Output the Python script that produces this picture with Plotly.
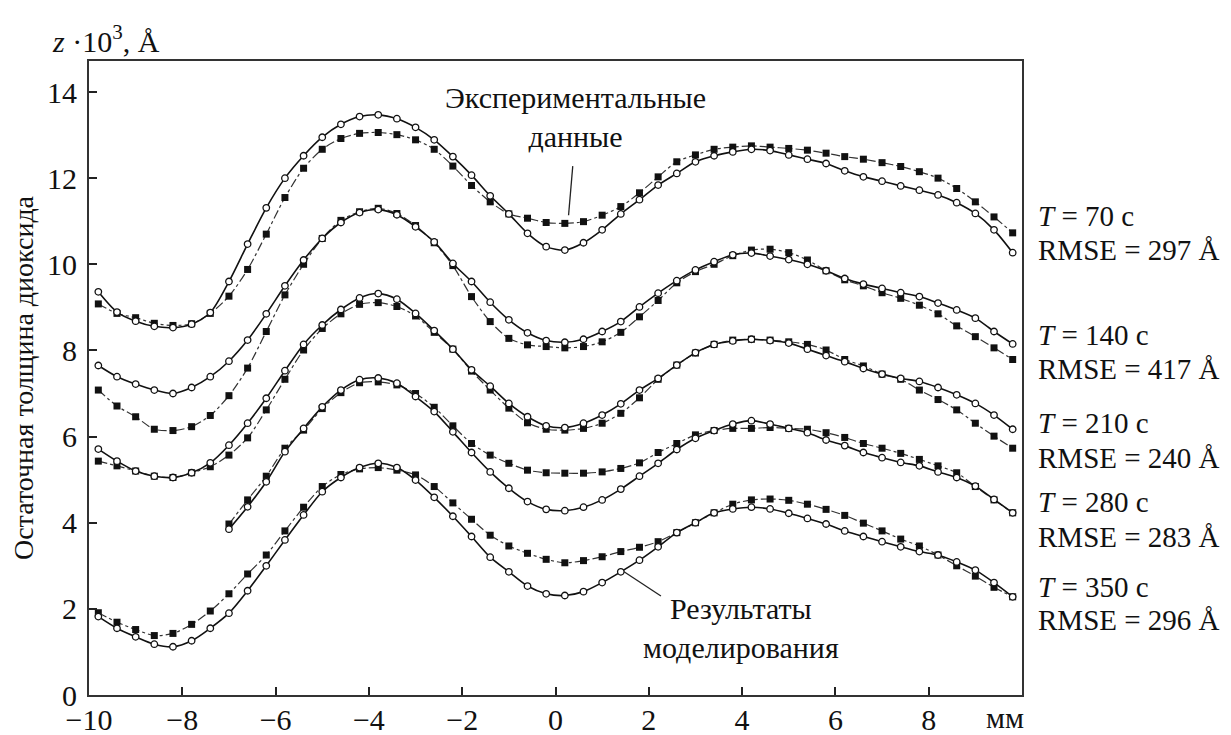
import plotly.graph_objects as go

# ---------------- data ----------------
x_mm = [-9.8, -9.4, -9.0, -8.6, -8.2, -7.8, -7.4, -7.0, -6.6, -6.2,
        -5.8, -5.4, -5.0, -4.6, -4.2, -3.8, -3.4, -3.0, -2.6, -2.2,
        -1.8, -1.4, -1.0, -0.6, -0.2, 0.2, 0.6, 1.0, 1.4, 1.8,
        2.2, 2.6, 3.0, 3.4, 3.8, 4.2, 4.6, 5.0, 5.4, 5.8,
        6.2, 6.6, 7.0, 7.4, 7.8, 8.2, 8.6, 9.0, 9.4, 9.8]

# model (solid line, open circles)
model_70 = [9.36, 8.89, 8.68, 8.56, 8.53, 8.61, 8.88, 9.60, 10.47, 11.31,
            12.00, 12.52, 12.95, 13.25, 13.43, 13.47, 13.38, 13.18, 12.89, 12.50,
            12.07, 11.59, 11.17, 10.72, 10.41, 10.33, 10.50, 10.80, 11.17, 11.50,
            11.84, 12.11, 12.38, 12.52, 12.61, 12.67, 12.64, 12.54, 12.44, 12.34,
            12.17, 12.03, 11.93, 11.82, 11.72, 11.61, 11.43, 11.18, 10.80, 10.27]
model_140 = [7.65, 7.39, 7.22, 7.08, 7.00, 7.14, 7.39, 7.75, 8.24, 8.85,
             9.50, 10.10, 10.60, 10.97, 11.20, 11.27, 11.15, 10.87, 10.52, 10.02,
             9.60, 9.12, 8.71, 8.41, 8.23, 8.19, 8.26, 8.44, 8.67, 9.01,
             9.33, 9.62, 9.87, 10.06, 10.22, 10.26, 10.19, 10.11, 10.00, 9.85,
             9.67, 9.54, 9.44, 9.34, 9.25, 9.10, 8.94, 8.75, 8.44, 8.15]
model_210 = [5.71, 5.43, 5.20, 5.08, 5.05, 5.16, 5.39, 5.80, 6.31, 6.89,
             7.53, 8.14, 8.59, 8.95, 9.22, 9.32, 9.19, 8.86, 8.46, 8.03,
             7.55, 7.17, 6.77, 6.46, 6.25, 6.21, 6.31, 6.50, 6.76, 7.08,
             7.35, 7.66, 7.95, 8.14, 8.22, 8.26, 8.23, 8.17, 8.03, 7.88,
             7.74, 7.58, 7.45, 7.35, 7.28, 7.14, 6.97, 6.77, 6.50, 6.17]
model_280 = [None, None, None, None, None, None, None, 3.85, 4.37, 4.95,
             5.65, 6.19, 6.69, 7.08, 7.32, 7.36, 7.24, 6.93, 6.58, 6.11,
             5.63, 5.18, 4.80, 4.49, 4.31, 4.28, 4.36, 4.53, 4.78, 5.08,
             5.38, 5.70, 5.96, 6.14, 6.29, 6.37, 6.29, 6.19, 6.09, 5.92,
             5.79, 5.63, 5.51, 5.40, 5.32, 5.18, 5.05, 4.85, 4.54, 4.23]
model_350 = [1.82, 1.55, 1.35, 1.18, 1.12, 1.26, 1.55, 1.90, 2.42, 3.00,
             3.60, 4.18, 4.72, 5.05, 5.28, 5.38, 5.28, 4.99, 4.59, 4.15,
             3.68, 3.20, 2.86, 2.53, 2.35, 2.31, 2.40, 2.61, 2.86, 3.13,
             3.44, 3.77, 4.00, 4.23, 4.32, 4.36, 4.32, 4.22, 4.10, 3.97,
             3.81, 3.68, 3.56, 3.44, 3.33, 3.25, 3.09, 2.90, 2.61, 2.28]

# experiment (dash-dot line, filled squares)
exp_70 = [9.08, 8.86, 8.76, 8.63, 8.58, 8.62, 8.86, 9.26, 9.88, 10.70,
          11.55, 12.23, 12.67, 12.92, 13.04, 13.06, 13.01, 12.89, 12.67, 12.28,
          11.83, 11.45, 11.17, 11.07, 10.97, 10.95, 10.99, 11.14, 11.34, 11.66,
          12.03, 12.38, 12.54, 12.67, 12.72, 12.75, 12.72, 12.69, 12.65, 12.58,
          12.50, 12.44, 12.36, 12.27, 12.15, 12.00, 11.76, 11.45, 11.10, 10.73]
exp_140 = [7.08, 6.71, 6.46, 6.17, 6.14, 6.23, 6.49, 6.95, 7.59, 8.44,
           9.29, 10.00, 10.60, 11.02, 11.22, 11.30, 11.18, 10.90, 10.50, 9.97,
           9.25, 8.67, 8.28, 8.13, 8.09, 8.06, 8.09, 8.20, 8.42, 8.78,
           9.16, 9.57, 9.83, 10.00, 10.20, 10.33, 10.35, 10.27, 10.10, 9.85,
           9.64, 9.50, 9.34, 9.21, 9.05, 8.85, 8.57, 8.32, 8.06, 7.79]
exp_210 = [5.43, 5.32, 5.20, 5.08, 5.05, 5.16, 5.30, 5.57, 5.97, 6.62,
           7.33, 8.01, 8.51, 8.85, 9.07, 9.11, 9.02, 8.80, 8.42, 8.03,
           7.52, 7.08, 6.66, 6.32, 6.17, 6.15, 6.19, 6.31, 6.54, 6.90,
           7.33, 7.66, 7.94, 8.14, 8.24, 8.26, 8.24, 8.20, 8.14, 8.01,
           7.79, 7.64, 7.45, 7.33, 7.08, 6.86, 6.62, 6.31, 6.01, 5.73]
exp_280 = [None, None, None, None, None, None, None, 3.97, 4.53, 5.08,
           5.73, 6.15, 6.65, 7.02, 7.25, 7.27, 7.20, 7.00, 6.68, 6.25,
           5.84, 5.57, 5.38, 5.22, 5.16, 5.15, 5.15, 5.18, 5.26, 5.39,
           5.63, 5.84, 6.04, 6.14, 6.19, 6.19, 6.21, 6.19, 6.17, 6.09,
           5.98, 5.84, 5.73, 5.61, 5.47, 5.32, 5.16, 4.84, 4.53, 4.23]
exp_350 = [1.91, 1.69, 1.52, 1.38, 1.43, 1.64, 1.95, 2.35, 2.81, 3.25,
           3.81, 4.36, 4.84, 5.12, 5.25, 5.28, 5.22, 5.11, 4.84, 4.46,
           4.08, 3.71, 3.46, 3.29, 3.15, 3.07, 3.12, 3.21, 3.33, 3.43,
           3.56, 3.77, 4.00, 4.23, 4.43, 4.53, 4.55, 4.52, 4.43, 4.31,
           4.17, 3.99, 3.81, 3.62, 3.46, 3.25, 3.00, 2.76, 2.50, 2.28]

model_series = [model_70, model_140, model_210, model_280, model_350]
exp_series = [exp_70, exp_140, exp_210, exp_280, exp_350]

x_ticks = [-10, -8, -6, -4, -2, 0, 2, 4, 6, 8]
y_ticks = [0, 2, 4, 6, 8, 10, 12, 14]

times = ["70", "140", "210", "280", "350"]
rmse = ["297", "417", "240", "283", "296"]
label_y_T = [0.755, 0.568, 0.429, 0.304, 0.170]     # paper coords
label_y_R = [0.702, 0.514, 0.374, 0.250, 0.118]

# ---------------- figure ----------------
FONT = "Liberation Serif"
FS = 30
fig = go.Figure()

for ys in exp_series:
    fig.add_trace(go.Scatter(
        x=x_mm, y=ys, mode="lines+markers",
        line=dict(color="#333333", width=1.2, dash="dashdot", shape="spline", smoothing=0.8),
        marker=dict(symbol="square", size=7, color="#111111"),
        showlegend=False, hoverinfo="skip"))

for ys in model_series:
    fig.add_trace(go.Scatter(
        x=x_mm, y=ys, mode="lines+markers",
        line=dict(color="#111111", width=1.6, shape="spline", smoothing=0.8),
        marker=dict(symbol="circle", size=6.5, color="white",
                    line=dict(color="#111111", width=1.3)),
        showlegend=False, hoverinfo="skip"))

annotations = []
for t, r, yt, yr in zip(times, rmse, label_y_T, label_y_R):
    annotations.append(dict(xref="paper", yref="paper", x=1.0155, y=yt,
                            xanchor="left", yanchor="middle", showarrow=False,
                            text=f"<i>T</i> = {t} с",
                            font=dict(family=FONT, size=29, color="#111")))
    annotations.append(dict(xref="paper", yref="paper", x=1.0155, y=yr,
                            xanchor="left", yanchor="middle", showarrow=False,
                            text=f"RMSE = {r} Å",
                            font=dict(family=FONT, size=29, color="#111")))

annotations += [
    dict(xref="x", yref="y", x=0.43, y=13.43, xanchor="center", yanchor="middle",
         showarrow=False, text="Экспериментальные<br>данные",
         font=dict(family=FONT, size=FS, color="#111")),
    dict(xref="x", yref="y", x=3.98, y=1.56, xanchor="center", yanchor="middle",
         showarrow=False, text="Результаты<br>моделирования",
         font=dict(family=FONT, size=FS, color="#111")),
    dict(xref="paper", yref="paper", x=0.982, y=-0.036, xanchor="center", yanchor="middle",
         showarrow=False, text="мм", font=dict(family=FONT, size=FS, color="#111")),
    dict(xref="paper", yref="paper", x=-0.042, y=1.035, xanchor="left", yanchor="middle",
         showarrow=False, text="<i>z</i> ·10<sup>3</sup>, Å",
         font=dict(family=FONT, size=FS, color="#111")),
]

leader_exp = dict(x0=0.37, y0=12.28, x1=0.28, y1=11.14)
leader_mod = dict(x0=1.47, y0=2.86, x1=2.26, y1=2.30)
shapes = [
    dict(type="line", xref="x", yref="y", line=dict(color="#222", width=1.3), **leader_exp),
    dict(type="line", xref="x", yref="y", line=dict(color="#222", width=1.3), **leader_mod),
]

# the page body adds an 8px offset; the plot box lands on the reference box
fig.update_layout(
    width=1223, height=727,
    margin=dict(l=81, r=209, t=53, b=40, autoexpand=False),
    paper_bgcolor="white", plot_bgcolor="white",
    font=dict(family=FONT, size=FS, color="#111"),
    annotations=annotations, shapes=shapes,
    showlegend=False,
)
fig.update_xaxes(range=[-10, 10], tickvals=x_ticks, ticks="inside", ticklen=8,
                 tickwidth=1.5, tickcolor="#222", showline=True, linecolor="#333",
                 linewidth=2, mirror=True, showgrid=False, zeroline=False,
                 automargin=False,
                 tickfont=dict(family=FONT, size=FS), ticklabelstandoff=-3)
fig.update_yaxes(range=[0, 14.72], tickvals=y_ticks, ticks="inside", ticklen=8,
                 tickwidth=1.5, tickcolor="#222", showline=True, linecolor="#333",
                 linewidth=2, mirror=True, showgrid=False, zeroline=False,
                 automargin=False,
                 tickfont=dict(family=FONT, size=FS), ticklabelstandoff=4,
                 title=dict(text="Остаточная толщина диоксида",
                            font=dict(family=FONT, size=28), standoff=10))

fig.write_html("out.html")
